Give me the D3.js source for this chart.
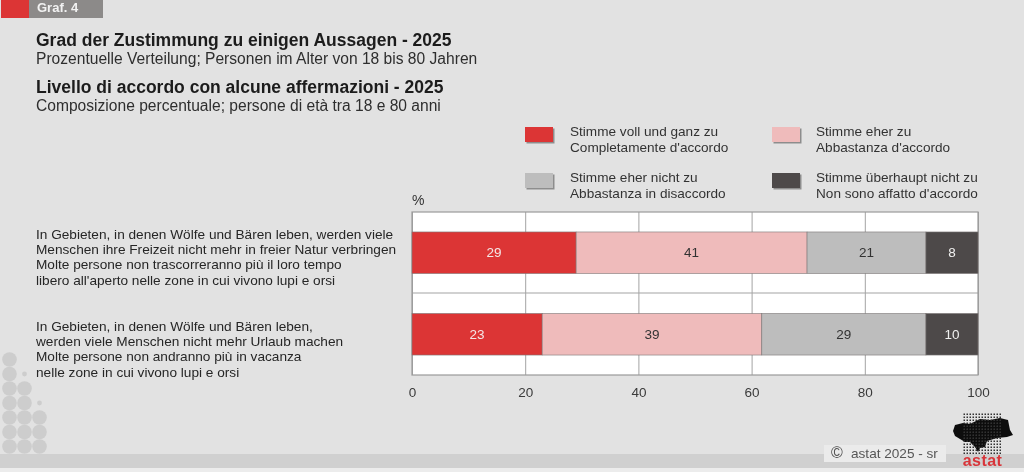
<!DOCTYPE html>
<html>
<head>
<meta charset="utf-8">
<script src="https://cdn.jsdelivr.net/npm/d3@7"></script>
<style>
html, body { margin: 0; padding: 0; background: #e2e2e2; overflow: hidden; }
text { font-family: "Liberation Sans", Arial, sans-serif; }
</style>
</head>
<body>
<div id="chart"></div>
<script>
// Data
var categories = ["woods", "holiday"];
var categoryLines = [
    ["In Gebieten, in denen Wölfe und Bären leben, werden viele",
     "Menschen ihre Freizeit nicht mehr in freier Natur verbringen",
     "Molte persone non trascorreranno più il loro tempo",
     "libero all'aperto nelle zone in cui vivono lupi e orsi"],
    ["In Gebieten, in denen Wölfe und Bären leben,",
     "werden viele Menschen nicht mehr Urlaub machen",
     "Molte persone non andranno più in vacanza",
     "nelle zone in cui vivono lupi e orsi"]
];
var seriesKeys = ["voll", "eher", "eherNicht", "nicht"];
// bar lengths; printed labels kept apart (they are rounded)
var vollValues = [29, 23];
var eherValues = [40.8, 38.8];
var eherNichtValues = [21, 29];
var nichtValues = [9.2, 9.2];
var vollLabels = ["29", "23"];
var eherLabels = ["41", "39"];
var eherNichtLabels = ["21", "29"];
var nichtLabels = ["8", "10"];
var legendLines = [
    ["Stimme voll und ganz zu", "Completamente d'accordo"],
    ["Stimme eher zu", "Abbastanza d'accordo"],
    ["Stimme eher nicht zu", "Abbastanza in disaccordo"],
    ["Stimme überhaupt nicht zu", "Non sono affatto d'accordo"]
];
var xTicks = [0, 20, 40, 60, 80, 100];
var colors = ["#dc3635", "#efbbbb", "#bdbdbd", "#4d4948"];
var labelColors = ["#f5e6e6", "#333333", "#333333", "#f0f0f0"];

var allValues = [vollValues, eherValues, eherNichtValues, nichtValues];
var allLabels = [vollLabels, eherLabels, eherNichtLabels, nichtLabels];

var svg = d3.select("#chart").append("svg")
    .attr("width", 1024)
    .attr("height", 472)
    .style("display", "block");

var defs = svg.append("defs");
var blur = defs.append("filter").attr("id", "soft")
    .attr("x", "-20%").attr("y", "-20%").attr("width", "140%").attr("height", "140%");
blur.append("feGaussianBlur").attr("stdDeviation", 0.4);

var root = svg.append("g").attr("filter", "url(#soft)");

// background decoration
root.append("rect").attr("width", 1024).attr("height", 472).attr("fill", "#e2e2e2");
root.append("rect").attr("x", 0).attr("y", 454).attr("width", 1024).attr("height", 14).attr("fill", "#d0d0d0");
root.append("rect").attr("x", 0).attr("y", 468).attr("width", 1024).attr("height", 4).attr("fill", "#ececec");

var bubbleRows = [[1,0,0],[1,0,0],[1,1,0],[1,1,0],[1,1,1],[1,1,1],[1,1,1]];
bubbleRows.forEach(function(row, r) {
    row.forEach(function(on, c) {
        if (on) {
            root.append("circle")
                .attr("cx", 9.5 + c * 15)
                .attr("cy", 359.5 + r * 14.5)
                .attr("r", 7.3)
                .attr("fill", "#cdcdcd");
        }
    });
});
root.append("circle").attr("cx", 24.5).attr("cy", 374).attr("r", 2.4).attr("fill", "#cdcdcd");
root.append("circle").attr("cx", 39.5).attr("cy", 403).attr("r", 2.4).attr("fill", "#cdcdcd");

// header tab
root.append("rect").attr("x", 1).attr("y", 0).attr("width", 28).attr("height", 18).attr("fill", "#dc3635");
root.append("rect").attr("x", 29).attr("y", 0).attr("width", 74).attr("height", 18).attr("fill", "#8c8a89");
root.append("text").attr("x", 37).attr("y", 12).attr("font-size", 13).attr("font-weight", "bold")
    .attr("fill", "#f2f2f2").text("Graf. 4");

// titles
var titles = [
    ["Grad der Zustimmung zu einigen Aussagen - 2025", 36, 46, 17.5, "bold", "#1c1c1c"],
    ["Prozentuelle Verteilung; Personen im Alter von 18 bis 80 Jahren", 36, 64, 15.6, "normal", "#2e2e2e"],
    ["Livello di accordo con alcune affermazioni - 2025", 36, 93, 17.5, "bold", "#1c1c1c"],
    ["Composizione percentuale; persone di età tra 18 e 80 anni", 36, 111, 15.6, "normal", "#2e2e2e"]
];
titles.forEach(function(t) {
    root.append("text").attr("x", t[1]).attr("y", t[2]).attr("font-size", t[3])
        .attr("font-weight", t[4]).attr("fill", t[5]).text(t[0]);
});

// scales
var x = d3.scaleLinear().domain([0, 100]).range([412, 978]);
var y = d3.scaleBand().domain(categories).range([212, 375]).paddingInner(0.49).paddingOuter(0.245);

// plot area
root.append("rect").attr("x", x(0)).attr("y", 212).attr("width", x(100) - x(0)).attr("height", 163)
    .attr("fill", "#ffffff");

var xAxis = d3.axisBottom(x).tickValues(xTicks).tickSize(163).tickPadding(12);
var axisG = root.append("g").attr("transform", "translate(0,212)").call(xAxis);
axisG.select(".domain").remove();
axisG.selectAll(".tick line").attr("stroke", "#a3a3a3").attr("stroke-width", 1);
axisG.selectAll(".tick text").attr("font-size", 13.5).attr("fill", "#3a3a3a")
    .attr("font-family", "Liberation Sans, Arial, sans-serif");

// horizontal lines between the rows
root.append("line").attr("x1", x(0)).attr("x2", x(100)).attr("y1", 293).attr("y2", 293)
    .attr("stroke", "#a3a3a3");
root.append("rect").attr("x", x(0)).attr("y", 212).attr("width", x(100) - x(0)).attr("height", 163)
    .attr("fill", "none").attr("stroke", "#9a9a9a").attr("stroke-width", 1.2);

// stacked bars
var tableRows = categories.map(function(c, i) {
    var row = { category: c };
    seriesKeys.forEach(function(k, s) { row[k] = allValues[s][i]; });
    return row;
});
var stacked = d3.stack().keys(seriesKeys)(tableRows);

var groups = root.selectAll(".series")
    .data(stacked)
    .enter()
    .append("g")
    .attr("class", "series");

groups.each(function(s, si) {
    var g = d3.select(this);
    g.selectAll("rect")
        .data(s)
        .enter()
        .append("rect")
        .attr("x", function(d) { return x(d[0]); })
        .attr("y", function(d) { return y(d.data.category); })
        .attr("width", function(d) { return x(d[1]) - x(d[0]); })
        .attr("height", y.bandwidth())
        .attr("fill", colors[si])
        .attr("stroke", "#7d7777")
        .attr("stroke-width", 0.6);

    g.selectAll("text")
        .data(s)
        .enter()
        .append("text")
        .attr("x", function(d) { return x((d[0] + d[1]) / 2); })
        .attr("y", function(d) { return y(d.data.category) + y.bandwidth() / 2 + 4.5; })
        .attr("text-anchor", "middle")
        .attr("font-size", 13.5)
        .attr("fill", labelColors[si])
        .text(function(d, i) { return allLabels[si][i]; });
});

// category labels
categoryLines.forEach(function(lines, i) {
    var top = i === 0 ? 238.5 : 330.5;
    lines.forEach(function(line, j) {
        root.append("text").attr("x", 36).attr("y", top + j * 15.4)
            .attr("font-size", 13.65).attr("fill", "#262626").text(line);
    });
});

root.append("text").attr("x", 412).attr("y", 205).attr("font-size", 14).attr("fill", "#333333").text("%");

// legend
var legendX = [525, 772];
var legendY = [127, 173];
legendLines.forEach(function(lines, i) {
    var lx = legendX[i % 2];
    var ly = legendY[Math.floor(i / 2)];
    root.append("rect").attr("x", lx + 1.5).attr("y", ly + 1.5).attr("width", 28).attr("height", 15)
        .attr("fill", "#8d8d8d");
    root.append("rect").attr("x", lx).attr("y", ly).attr("width", 28).attr("height", 15)
        .attr("fill", colors[i]);
    lines.forEach(function(line, j) {
        root.append("text").attr("x", (i % 2 ? lx + 44 : lx + 45)).attr("y", ly + 9 + j * 15.5)
            .attr("font-size", 13.6).attr("fill", "#333333").text(line);
    });
});

// footer and logo
root.append("rect").attr("x", 824).attr("y", 445).attr("width", 122).attr("height", 17).attr("fill", "#ebebeb");
root.append("text").attr("x", 831).attr("y", 458).attr("font-size", 16).attr("fill", "#4f4f4f").text("©");
root.append("text").attr("x", 851).attr("y", 458).attr("font-size", 13.6).attr("fill", "#555555").text("astat 2025 - sr");

root.append("path")
    .attr("d", "M953,431 L955,425 L963,423 L970,424 L980,419 L990,420 L1000,418 L1008,420 L1010,430 L1013,435 L1007,437 L997,438 L987,441 L985,447 L980,448 L978,452 L975,447 L970,442 L965,442 L955,436 Z")
    .attr("fill", "#111111");
for (var lr = 0; lr < 14; lr++) {
    for (var lc = 0; lc < 13; lc++) {
        root.append("rect")
            .attr("x", 963.5 + lc * 3).attr("y", 413.5 + lr * 3)
            .attr("width", 1.5).attr("height", 1.5)
            .attr("fill", "#333333");
    }
}
root.append("text").attr("x", 982.5).attr("y", 466).attr("text-anchor", "middle")
    .attr("font-size", 16).attr("font-weight", "bold").attr("fill", "#d8363a")
    .attr("letter-spacing", 0.4).text("astat");
</script>
</body>
</html>
